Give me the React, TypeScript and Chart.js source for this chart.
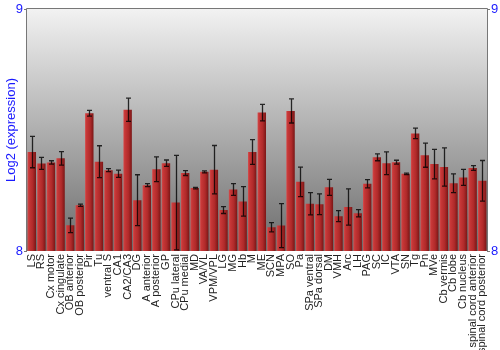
import { useEffect, useRef } from "react";
import { Chart, registerables } from "chart.js";
Chart.register(...registerables);

const categories = [
  "LS", "RS", "Cx motor", "Cx cingulate", "OB anterior", "OB posterior", "Pir", "Tu",
  "ventral S", "CA1", "CA2/CA3", "DG", "A anterior", "A posterior", "GP", "CPu lateral",
  "CPu medial", "MD", "VA/VL", "VPM/VPL", "LG", "MG", "Hb", "M", "ME", "SCN", "MPA", "SO",
  "Pa", "SPa ventral", "SPa dorsal", "DM", "VMH", "Arc", "LH", "PAG", "SC", "IC", "VTA",
  "SN", "Tg", "Pn", "MVe", "Cb vermis", "Cb lobe", "Cb nucleus", "spinal cord anterior",
  "spinal cord posterior",
];

const values = [
  8.409, 8.362, 8.366, 8.383, 8.106, 8.189, 8.569, 8.369,
  8.334, 8.319, 8.584, 8.21, 8.272, 8.338, 8.363, 8.2,
  8.322, 8.26, 8.327, 8.336, 8.169, 8.254, 8.205, 8.409, 8.572, 8.098, 8.105, 8.579,
  8.286, 8.195, 8.193, 8.263, 8.144, 8.182, 8.156, 8.278, 8.387, 8.363, 8.367,
  8.319, 8.486, 8.396, 8.359, 8.347, 8.28, 8.304, 8.343,
  8.29,
];

const errors = [
  0.065, 0.025, 0.007, 0.028, 0.03, 0.005, 0.012, 0.066,
  0.006, 0.015, 0.048, 0.105, 0.006, 0.051, 0.013, 0.195,
  0.01, 0.003, 0.004, 0.1, 0.014, 0.024, 0.061, 0.051, 0.034, 0.019, 0.091, 0.05,
  0.061, 0.046, 0.043, 0.033, 0.023, 0.075, 0.015, 0.017, 0.014, 0.047, 0.008,
  0.003, 0.022, 0.05, 0.061, 0.079, 0.039, 0.033, 0.01,
  0.084,
];

const yTicks = [8, 9];
const yTitle = "Log2 (expression)";

export default function App() {
  const ref = useRef<HTMLCanvasElement>(null);
  useEffect(() => {
    const bgPlugin = {
      id: "bg",
      beforeDraw(chart: any) {
        const { ctx, chartArea: a } = chart;
        ctx.save();
        const g = ctx.createLinearGradient(0, a.top, 0, a.bottom);
        g.addColorStop(0, "#f2f2f2");
        g.addColorStop(1, "#6c6c6c");
        ctx.fillStyle = g;
        ctx.fillRect(a.left, a.top, a.right - a.left, a.bottom - a.top);
        ctx.restore();
      },
      afterDraw(chart: any) {
        const { ctx, chartArea: a } = chart;
        ctx.save();
        ctx.strokeStyle = "#777";
        ctx.lineWidth = 1;
        ctx.beginPath();
        ctx.moveTo(a.left - 0.5, a.bottom);
        ctx.lineTo(a.left - 0.5, a.top - 0.5);
        ctx.lineTo(a.right + 0.5, a.top - 0.5);
        ctx.lineTo(a.right + 0.5, a.bottom);
        ctx.stroke();
        ctx.restore();
      },
    };
    const errPlugin = {
      id: "errs",
      afterDatasetsDraw(chart: any) {
        const { ctx } = chart;
        const ys = chart.scales.y;
        const meta = chart.getDatasetMeta(0);
        ctx.save();
        ctx.strokeStyle = "rgba(0,0,0,0.8)";
        ctx.lineWidth = 1.3;
        meta.data.forEach((el: any, i: number) => {
          const v = values[i];
          const e = errors[i];
          const x = Math.round(el.x) + 0.5;
          const yt = ys.getPixelForValue(v + e);
          const yb = ys.getPixelForValue(v - e);
          ctx.beginPath();
          ctx.moveTo(x, yt);
          ctx.lineTo(x, yb);
          ctx.moveTo(x - 2.5, yt);
          ctx.lineTo(x + 2.5, yt);
          ctx.moveTo(x - 2.5, yb);
          ctx.lineTo(x + 2.5, yb);
          ctx.stroke();
        });
        ctx.restore();
      },
    };
    const tickFont = { family: "'Liberation Sans', Arial, sans-serif", size: 13 };
    const chart = new Chart(ref.current!, {
      type: "bar",
      data: {
        labels: categories,
        datasets: [
          {
            data: values,
            borderWidth: 0,
            barPercentage: 0.88,
            categoryPercentage: 1,
            backgroundColor: (c: any) => {
              const ch = c.chart;
              const xs = ch.scales && ch.scales.x;
              if (!xs || c.dataIndex === undefined || !ch.chartArea) return "#b03030";
              const cx = xs.getPixelForValue(c.dataIndex);
              const w = (xs.width / categories.length) * 0.88;
              const g = ch.ctx.createLinearGradient(cx - w / 2, 0, cx + w / 2, 0);
              g.addColorStop(0, "#d65050");
              g.addColorStop(0.15, "#c83838");
              g.addColorStop(0.6, "#b02a2a");
              g.addColorStop(1, "#7a1616");
              return g;
            },
          },
        ],
      },
      options: {
        responsive: false,
        animation: false,
        layout: { padding: { top: 9, left: 0, right: 0, bottom: 0 } },
        plugins: { legend: { display: false }, tooltip: { enabled: false } },
        scales: {
          x: {
            grid: { display: false, drawTicks: false },
            border: { display: false },
            ticks: {
              autoSkip: false,
              maxRotation: 90,
              minRotation: 90,
              padding: 3,
              color: "#222",
              font: { family: "'Liberation Sans', Arial, sans-serif", size: 11 },
            },
            afterFit: (s: any) => {
              s.height = 99;
            },
          },
          y: {
            position: "left",
            min: 8,
            max: 9,
            afterBuildTicks: (s: any) => {
              s.ticks = yTicks.map((v) => ({ value: v }));
            },
            ticks: { color: "#1a1aff", font: tickFont, padding: 1 },
            grid: { display: true, drawOnChartArea: false, tickLength: 3, color: "#777" },
            border: { display: false },
            title: {
              display: true,
              text: yTitle,
              color: "#1a1aff",
              font: tickFont,
              padding: { top: 4, bottom: 0 },
            },
            afterFit: (s: any) => {
              s.width = 27;
            },
          },
          y2: {
            position: "right",
            min: 8,
            max: 9,
            afterBuildTicks: (s: any) => {
              s.ticks = yTicks.map((v) => ({ value: v }));
            },
            ticks: { color: "#1a1aff", font: tickFont, padding: 1 },
            grid: { display: true, drawOnChartArea: false, tickLength: 3, color: "#777" },
            border: { display: false },
            afterFit: (s: any) => {
              s.width = 13;
            },
          },
        },
      } as any,
      plugins: [bgPlugin, errPlugin],
    });
    return () => chart.destroy();
  }, []);
  return (
    <div style={{ position: "absolute", left: 0, top: 0, width: 500, height: 350 }}>
      <canvas ref={ref} width={500} height={350} style={{ width: 500, height: 350 }} />
    </div>
  );
}
